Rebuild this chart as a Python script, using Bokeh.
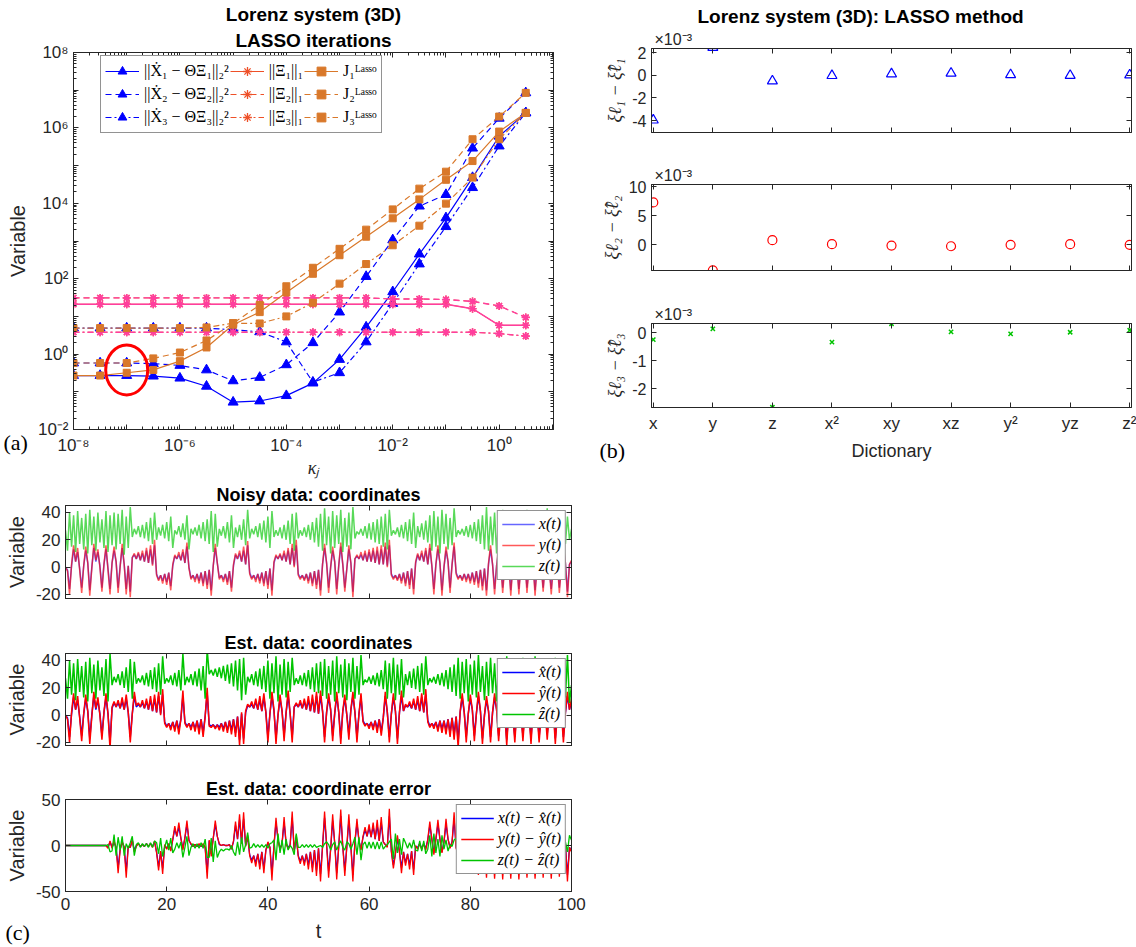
import numpy as np
from bokeh.plotting import figure
from bokeh.layouts import column, row
from bokeh.models import (Range1d, FixedTicker, LinearAxis, LogAxis, Legend, LegendItem,
                          Label, Title, Spacer, CustomJSTickFormatter)
from bokeh.embed import file_html
from bokeh.resources import INLINE

AX = "#262626"
SANS = "Liberation Sans"
SERIF = "Liberation Serif"

# ---------------- (a) LASSO iterations vs. kappa_j ----------------
kappa = [1e-8, 3.16e-8, 1e-7, 3.16e-7, 1e-6, 3.16e-6, 1e-5, 3.16e-5, 1e-4, 3.16e-4,
         1e-3, 3.16e-3, 1e-2, 3.16e-2, 1e-1, 3.16e-1, 1.0, 3.16]
resid_1 = [0.27, 0.27, 0.27, 0.26, 0.23, 0.14, 0.053, 0.057, 0.079, 0.17, 0.72, 5.2,
           45, 450, 4100, 48000, 6.0e5, 2.5e6]
resid_2 = [0.58, 0.58, 0.58, 0.56, 0.50, 0.38, 0.195, 0.24, 0.52, 2.0, 13, 114,
           1070, 8400, 17000, 2.9e5, 1.8e6, 8.5e6]
resid_3 = [4.9, 4.9, 4.9, 4.9, 4.9, 4.9, 4.4, 3.9, 2.1, 0.18, 0.32, 2.1,
           22, 245, 2400, 26000, 3.3e5, 2.5e6]
l1_1 = [21, 21, 21, 21, 21, 21, 21, 21, 21, 21, 21, 21, 21, 21, 21, 16, 5.8, 5.8]
l1_2 = [31, 31, 31, 31, 31, 31, 31, 31, 31, 31, 31, 31, 29, 29, 28, 25, 19, 9.4]
l1_3 = [3.8, 3.8, 3.8, 3.8, 3.8, 3.8, 3.8, 3.8, 3.8, 3.8, 3.8, 3.8, 3.8, 3.8, 3.8, 3.8, 3.5, 3.0]
j_lasso_1 = [0.27, 0.27, 0.32, 0.38, 0.65, 1.5, 6.0, 13, 43, 135, 420, 1300,
             4000, 12700, 42000, 132000, 8.0e5, 2.5e6]
j_lasso_2 = [0.58, 0.58, 0.58, 0.77, 1.1, 2.3, 6.6, 20, 63, 195, 620, 2000,
             6900, 24500, 69000, 5.0e5, 2.0e6, 8.5e6]
j_lasso_3 = [4.9, 4.9, 4.9, 4.9, 4.9, 5.1, 6.6, 6.5, 10, 23, 74, 245,
             770, 2550, 9800, 48000, 5.0e5, 2.5e6]
chosen_kappa = [1e-7]
chosen_value = [0.38]

resid_labels = ["||Ẋ₁ − ΘΞ₁||₂²", "||Ẋ₂ − ΘΞ₂||₂²", "||Ẋ₃ − ΘΞ₃||₂²"]
l1_labels = ["||Ξ₁||₁", "||Ξ₂||₁", "||Ξ₃||₁"]
j_labels = ["J₁ᴸᵃˢˢᵒ", "J₂ᴸᵃˢˢᵒ", "J₃ᴸᵃˢˢᵒ"]
kappa_tick_labels = ["10⁻⁸", "", "10⁻⁶", "", "10⁻⁴", "", "10⁻²", "", "10⁰", ""]   # 1e-8 .. 1e1
value_tick_labels = ["10⁻²", "", "10⁰", "", "10²", "", "10⁴", "", "10⁶", "", "10⁸"]  # 1e-2 .. 1e8

# ---------------- (b) coefficient errors per dictionary term (x 1e-3) ----------------
dictionary = ["x", "y", "z", "x²", "xy", "xz", "y²", "yz", "z²"]
xi1_err_e3 = [-3.95, 2.45, -0.5, -0.03, 0.12, 0.18, 0.05, -0.02, 0.03]
xi2_err_e3 = [7.3, -4.47, 0.76, 0.06, -0.18, -0.3, -0.06, 0.06, -0.06]
xi3_err_e3 = [-0.25, 0.13, -2.65, -0.34, 0.31, 0.02, -0.05, 0.01, 0.08]

# ---------------- (c) trajectories, sampled every 0.4 time units ----------------
x_noisy = [0, -2, -16, 1, 13, 4, 11, -1, -15, 1, 12, 3, -17, 0, 14, 4, 11, 1, -15, 2, 13, -1, -16, 3, 12,
           4, -15, 1, 14, 2, -16, 1, -18, 7, 9, 6, 10, 5, 10, 4, 12, 3, 13, 2, 16, -5, -9, -6, -10, -5,
           -11, -4, -14, 1, 8, 6, 9, 5, 11, 3, 15, 0, -8, -6, -9, -5, -10, -4, -12, -3, -13, -2, -17, 1, 14,
           3, -8, -6, -9, -5, -11, -3, -15, 1, 9, 6, 10, 4, 12, 2, 16, -4, -8, -6, -9, -5, -10, -4, -12, -3,
           -13, -1, -17, 3, 8, 6, 9, 5, 10, 4, 12, 2, 14, 1, 16, -5, -8, -6, -9, -5, -10, -4, -12, -3, -13,
           -2, -17, 2, 14, 3, -15, 0, 12, 4, -16, 1, 15, 2, -15, -1, 13, 3, -18, 6, 8, 6, 9, 5, 10, 4,
           11, 4, 12, 3, 12, 2, 13, 2, 15, 1, 16, -5, -8, -6, -9, -5, -10, -4, -12, -3, -13, -1, -16, 3, 9,
           5, 10, 4, 12, 2, 14, 1, -16, 2, 13, 3, -17, 0, 12, 4, -15, 2, 15, -4, -8, -6, -9, -5, -9, -5,
           -10, -4, -11, -3, -12, -2, -14, -1, -17, 2, 13, 2, -16, 1, 12, 4, -15, 0, 14, 3, -17, 1, 11, 3, -16,
           2, 13, 4, -15, 0, 12, 3, -17, 1, 14, 2, -15, 3, 13, -1, -16, 2, 11, 4, -15, 1, 14, 3, -18, 2, 4]
y_noisy = [0, -3, -20, 2, 16, 4, 14, -2, -19, 1, 15, 3, -21, -1, 17, 5, 13, 0, -18, 2, 16, -2, -20, 3, 15,
           4, -19, 0, 17, 2, -20, 1, -22, 7, 10, 6, 11, 5, 12, 4, 14, 3, 16, 1, 20, -6, -10, -6, -12, -5,
           -13, -4, -17, 2, 9, 6, 11, 5, 13, 3, 18, -1, -9, -6, -11, -5, -12, -4, -14, -3, -16, -2, -21, 1, 17,
           3, -9, -6, -11, -5, -13, -3, -18, 2, 10, 6, 12, 4, 15, 2, 19, -5, -9, -6, -11, -5, -12, -4, -14, -3,
           -16, -1, -21, 4, 9, 6, 10, 5, 12, 4, 14, 2, 17, 0, 20, -6, -9, -6, -10, -5, -12, -4, -14, -3, -16,
           -2, -21, 2, 17, 3, -19, 0, 15, 4, -20, 1, 18, 2, -18, -1, 16, 3, -22, 6, 9, 6, 11, 5, 12, 4,
           13, 4, 14, 3, 15, 2, 16, 2, 18, 0, 20, -6, -9, -6, -10, -5, -12, -4, -14, -3, -16, -1, -20, 4, 10,
           5, 12, 4, 14, 2, 17, 1, -20, 2, 16, 3, -21, 0, 15, 4, -19, 2, 18, -5, -9, -6, -10, -5, -11, -5,
           -12, -4, -13, -3, -15, -2, -17, -1, -21, 3, 16, 2, -20, 1, 15, 4, -19, 0, 17, 3, -21, 1, 14, 3, -20,
           2, 16, 4, -19, 0, 15, 3, -21, 1, 17, 2, -18, 3, 16, -1, -20, 2, 14, 4, -19, 1, 17, 3, -22, 2, 5]
z_noisy = [27, 12, 40, 15, 38, 11, 41, 17, 36, 13, 39, 10, 42, 16, 37, 12, 40, 18, 35, 14, 41, 11, 38, 16, 40,
           13, 39, 17, 42, 9, 37, 14, 44, 22, 28, 24, 30, 22, 31, 21, 33, 19, 36, 17, 40, 20, 29, 23, 31, 21,
           33, 19, 37, 14, 27, 24, 30, 22, 32, 20, 38, 13, 28, 24, 29, 23, 31, 21, 33, 19, 35, 17, 41, 11, 39,
           15, 28, 23, 30, 21, 33, 18, 38, 14, 29, 22, 31, 20, 35, 16, 42, 21, 28, 24, 30, 22, 32, 20, 34, 18,
           37, 14, 41, 22, 27, 23, 29, 21, 31, 20, 34, 17, 39, 12, 40, 21, 27, 23, 29, 22, 31, 20, 33, 18, 36,
           15, 39, 12, 43, 16, 37, 10, 41, 14, 38, 17, 42, 11, 36, 15, 40, 13, 44, 21, 26, 24, 28, 23, 30, 21,
           32, 20, 33, 18, 35, 17, 37, 15, 39, 13, 42, 23, 27, 24, 29, 22, 31, 21, 33, 19, 35, 17, 40, 14, 30,
           22, 32, 20, 34, 18, 38, 12, 41, 15, 37, 10, 42, 17, 39, 13, 36, 16, 43, 22, 27, 24, 28, 23, 30, 22,
           31, 21, 33, 19, 35, 17, 38, 13, 44, 12, 37, 16, 40, 10, 39, 15, 42, 13, 36, 17, 41, 11, 38, 14, 40,
           16, 37, 12, 42, 15, 39, 10, 41, 17, 36, 13, 40, 15, 43, 11, 38, 16, 35, 12, 41, 14, 39, 17, 37, 20, 28]

x_est = [0, -2, -16, 1, 13, 4, 11, -1, -15, 1, 12, 3, -17, 0, 14, 4, 11, 1, -15, 2, 13, 1, -20, 5, 9,
         6, 9, 5, 10, 4, 12, 2, -16, 1, 14, 6, 8, 6, 9, 5, 10, 4, 11, 3, 12, 2, 14, 1, 15, -5,
         -8, -6, -9, -5, -10, -4, -11, -3, 14, -5, -8, -6, -9, -5, -10, -4, -11, -3, -13, -1, 16, -7, -8, -7, -9,
         -7, -9, -6, -10, -5, -11, -4, -11, -3, -13, -1, -18, 1, -17, 2, 7, 6, 8, 5, 10, 4, 11, 3, 13, 2,
         -16, 1, 14, 3, -17, 0, 12, 3, -15, 2, 14, 1, -16, 6, 8, 6, 9, 5, 10, 4, 11, 3, 12, 2, 14,
         1, 14, 3, -16, 2, 13, 4, -15, 1, 14, 2, -17, 3, 12, 0, -14, 4, 14, 2, -16, 1, 13, -4, -7, -6,
         -8, -5, -9, -4, -10, -3, -12, -2, 14, 2, -16, 1, 13, 3, -17, 2, 14, 3, 7, 6, 8, 5, 10, 4, 11,
         3, 13, 2, 15, -4, -8, -6, -8, -5, -10, -4, -10, -4, -11, -3, -13, -2, -14, -1, -19, 2, 13, 2, -16, 1,
         12, 4, -15, 1, 14, 3, -17, 0, 11, 3, -16, 2, 13, 4, -15, 1, 14, 2, -18, 3, 12, 0, -16, 4, 14,
         2, -15, 3, 13, 1, -17, 4, 12, 2, -16, 0, 14, 3, -14, 2, 13, 4, -17, 1, 12, 3, -16, 2, 14, 4, 10]
y_est = [0, -3, -20, 2, 16, 4, 14, -2, -19, 1, 15, 3, -21, -1, 17, 5, 13, 0, -18, 2, 16, 1, -25, 6, 10,
         6, 11, 5, 13, 4, 15, 2, -20, 1, 17, 7, 9, 6, 11, 5, 12, 4, 14, 3, 15, 2, 17, 0, 19, -6,
         -9, -6, -11, -5, -12, -4, -14, -3, 18, -6, -9, -6, -11, -5, -12, -4, -14, -3, -16, -1, 20, -8, -9, -7, -10,
         -7, -11, -6, -12, -5, -13, -4, -14, -3, -16, -1, -22, 2, -21, 3, 8, 6, 10, 5, 12, 4, 14, 3, 16, 2,
         -20, 1, 17, 4, -21, 0, 15, 3, -19, 2, 18, 1, -20, 6, 9, 6, 11, 5, 12, 4, 14, 3, 15, 2, 17,
         1, 18, 3, -20, 2, 16, 4, -19, 1, 17, 2, -21, 3, 15, 0, -18, 4, 17, 2, -20, 1, 16, -5, -8, -6,
         -10, -5, -11, -4, -13, -3, -15, -2, 17, 2, -20, 1, 16, 3, -21, 2, 18, 3, 8, 6, 10, 5, 12, 4, 14,
         3, 16, 2, 19, -5, -9, -6, -10, -5, -12, -4, -13, -4, -14, -3, -16, -2, -18, -1, -24, 3, 16, 2, -20, 1,
         15, 4, -19, 1, 17, 3, -21, 0, 14, 3, -20, 2, 16, 4, -19, 1, 18, 2, -22, 3, 15, 0, -20, 4, 17,
         2, -19, 3, 16, 1, -21, 4, 15, 2, -20, 0, 17, 3, -18, 2, 16, 4, -21, 1, 15, 3, -20, 2, 17, 4, 12]
z_est = [27, 12, 40, 15, 38, 11, 41, 17, 36, 13, 39, 10, 42, 16, 37, 12, 40, 18, 35, 14, 41, 10, 45, 22, 28,
         24, 30, 22, 32, 20, 35, 17, 41, 12, 39, 23, 27, 24, 29, 22, 31, 21, 33, 19, 35, 17, 38, 15, 43, 23,
         27, 24, 29, 22, 31, 21, 33, 18, 45, 22, 28, 24, 30, 22, 32, 21, 34, 18, 36, 12, 48, 30, 33, 29, 34,
         28, 35, 27, 36, 25, 37, 23, 38, 21, 40, 18, 41, 11, 42, 15, 28, 24, 30, 22, 32, 21, 34, 19, 36, 17,
         40, 12, 38, 16, 43, 10, 37, 15, 41, 13, 39, 17, 42, 22, 27, 23, 29, 22, 31, 21, 33, 19, 35, 17, 38,
         16, 39, 14, 41, 12, 36, 15, 40, 10, 43, 16, 37, 13, 41, 11, 38, 17, 42, 12, 36, 15, 44, 22, 26, 24,
         28, 23, 29, 22, 31, 21, 33, 19, 40, 12, 38, 16, 42, 11, 37, 15, 41, 13, 30, 22, 32, 20, 34, 19, 36,
         17, 38, 15, 43, 22, 27, 24, 28, 23, 30, 22, 31, 21, 33, 19, 35, 17, 37, 14, 42, 12, 39, 16, 41, 10,
         37, 15, 40, 13, 44, 17, 36, 11, 39, 14, 42, 16, 38, 10, 41, 15, 37, 12, 43, 17, 36, 13, 40, 11, 38,
         16, 42, 12, 37, 15, 40, 11, 43, 16, 38, 13, 36, 17, 41, 12, 39, 14, 42, 10, 37, 15, 40, 13, 44, 9, 22]

BLUE, RED, GREEN = "#0000FF", "#FF0000", "#00C400"
J_COLOR = "#D9782A"
XI_COLOR = "#FF3E9E"
XI_LEGEND = "#EE5028"


def style_axis(ax, size="16px"):
    ax.axis_line_color = AX
    ax.major_tick_line_color = AX
    ax.minor_tick_line_color = AX
    ax.major_tick_in = 5
    ax.major_tick_out = 0
    ax.minor_tick_in = 3
    ax.minor_tick_out = 0
    ax.major_label_text_color = AX
    ax.major_label_text_font = SANS
    ax.major_label_text_font_size = size
    ax.axis_label_text_color = AX
    ax.axis_label_text_font = SANS
    ax.axis_label_text_font_style = "normal"


def hide_labels(ax):
    ax.major_label_text_font_size = "1px"
    ax.major_label_text_alpha = 0
    ax.major_label_standoff = 0


def add_box_ticks(p, xticker, yticker, log=False):
    cls = LogAxis if log else LinearAxis
    top = cls(ticker=xticker)
    right = cls(ticker=yticker)
    for ax in (top, right):
        style_axis(ax)
        hide_labels(ax)
    p.add_layout(top, "above")
    p.add_layout(right, "right")


def base_style(p):
    p.xgrid.visible = False
    p.ygrid.visible = False
    p.outline_line_color = AX
    p.outline_line_width = 1
    p.background_fill_color = "white"
    p.border_fill_color = "white"


def style_title(t, size="19px", bold=True):
    t.text_font = SANS
    t.text_font_size = size
    t.text_font_style = "bold" if bold else "normal"
    t.text_color = "black"
    t.standoff = 3


def tag_label(text, x, y, font=SERIF, size="22px", align="left", color="black"):
    return Label(x=x, y=y, x_units="screen", y_units="screen", text=text,
                 text_font=font, text_font_size=size, text_baseline="middle",
                 text_align=align, text_color=color)


def text_strip(width, height):
    # axis-free strip under a column of plots, used for loose captions
    f = figure(width=width, height=height, x_range=Range1d(0, 1), y_range=Range1d(0, 1),
               output_backend="svg", toolbar_location=None, min_border=0, title=None,
               x_axis_location=None, y_axis_location=None)
    f.xgrid.visible = False
    f.ygrid.visible = False
    f.outline_line_color = None
    f.background_fill_color = "white"
    f.border_fill_color = "white"
    return f


# ================= panel (a) =================
pa = figure(width=585, height=480, x_axis_type="log", y_axis_type="log",
            x_range=Range1d(1e-8, 10.5), y_range=Range1d(1e-2, 1e8),
            output_backend="svg", toolbar_location=None,
            min_border_left=73, min_border_right=32, min_border_top=52, min_border_bottom=45)
base_style(pa)

x_major = [10.0 ** e for e in range(-8, 2)]
x_minor = [m * 10.0 ** e for e in range(-8, 1) for m in range(2, 10)] + [2.0, 3.0, 4.0, 5.0, 6.0, 7.0, 8.0, 9.0]
y_major = [10.0 ** e for e in range(-2, 9)]
y_minor = [m * 10.0 ** e for e in range(-2, 8) for m in range(2, 10)]
xt = FixedTicker(ticks=x_major, minor_ticks=x_minor)
yt = FixedTicker(ticks=y_major, minor_ticks=y_minor)

pa.xaxis[0].ticker = xt
pa.yaxis[0].ticker = yt
pa.xaxis[0].formatter = CustomJSTickFormatter(
    args=dict(labels=kappa_tick_labels, first=-8),
    code="const i = Math.round(Math.log10(tick)) - first; const s = labels[i]; return s === undefined ? '' : s;")
pa.yaxis[0].formatter = CustomJSTickFormatter(
    args=dict(labels=value_tick_labels, first=-2),
    code="const i = Math.round(Math.log10(tick)) - first; const s = labels[i]; return s === undefined ? '' : s;")
style_axis(pa.xaxis[0], "17px")
style_axis(pa.yaxis[0], "17px")
pa.xaxis[0].major_label_standoff = 6
pa.yaxis[0].major_label_standoff = 5
pa.xaxis[0].axis_label = "κⱼ"
pa.xaxis[0].axis_label_text_font = SERIF
pa.xaxis[0].axis_label_text_font_style = "italic"
pa.xaxis[0].axis_label_text_font_size = "18px"
pa.xaxis[0].axis_label_standoff = 0
pa.yaxis[0].axis_label = "Variable"
pa.yaxis[0].axis_label_text_font_size = "20px"
pa.yaxis[0].axis_label_standoff = 6
add_box_ticks(pa, xt, yt, log=True)

# extra titles stack next to the frame, so the outer line is the figure title
pa.title.text = "Lorenz system (3D)"
pa.title.align = "center"
style_title(pa.title)
t_sub = Title(text="LASSO iterations", align="center")
style_title(t_sub)
pa.add_layout(t_sub, "above")

dashes = ["solid", "6 4", "6 3 2 3"]
resid_r, xi_leg_r, j_r = [], [], []
for vals, dash in zip([resid_1, resid_2, resid_3], dashes):
    l = pa.line(kappa, vals, line_color=BLUE, line_width=1.2, line_dash=dash)
    s = pa.scatter(kappa, vals, marker="triangle", size=10, fill_color=BLUE, line_color=BLUE)
    resid_r.append([l, s])
for vals, dash in zip([l1_1, l1_2, l1_3], dashes):
    # legend-coloured copy underneath, covered by the pink trace drawn on top
    l = pa.line(kappa, vals, line_color=XI_LEGEND, line_width=1.0, line_dash=dash)
    s = pa.scatter(kappa, vals, marker="asterisk", size=8, line_color=XI_LEGEND, line_width=1.3)
    xi_leg_r.append([l, s])
    pa.line(kappa, vals, line_color=XI_COLOR, line_width=1.4, line_dash=dash)
    pa.scatter(kappa, vals, marker="asterisk", size=8, line_color=XI_COLOR, line_width=1.6)
for vals, dash in zip([j_lasso_1, j_lasso_2, j_lasso_3], dashes):
    l = pa.line(kappa, vals, line_color=J_COLOR, line_width=1.2, line_dash=dash)
    s = pa.scatter(kappa, vals, marker="square", size=7, fill_color=J_COLOR, line_color=J_COLOR)
    j_r.append([l, s])

pa.ellipse(x=chosen_kappa, y=chosen_value, width=42, height=50,
           width_units="screen", height_units="screen",
           fill_alpha=0, line_color="#FF0000", line_width=3)

items = ([LegendItem(label=lb, renderers=r) for lb, r in zip(resid_labels, resid_r)] +
         [LegendItem(label=lb, renderers=r) for lb, r in zip(l1_labels, xi_leg_r)] +
         [LegendItem(label=lb, renderers=r) for lb, r in zip(j_labels, j_r)])
leg_a = Legend(items=items, ncols=3, location=(27, 296),
               label_text_font=SERIF, label_text_font_size="16px", label_text_color="black",
               glyph_width=34, glyph_height=22, label_height=22, spacing=1, padding=4,
               label_standoff=5, border_line_color=AX, border_line_width=1,
               background_fill_color="white", background_fill_alpha=1)
pa.add_layout(leg_a)
# the right side panel is not clipped, so the tag can reach the lower-left corner
pa.add_layout(tag_label("(a)", -550, -13), "right")

# ================= panel (b) =================
positions = list(range(1, len(dictionary) + 1))


def coef_fig(height, btop, bbottom, yr, yticks, ylabel, show_labels, main_title=None):
    f = figure(width=551, height=height, x_range=Range1d(0.97, 9.03), y_range=Range1d(*yr),
               output_backend="svg", toolbar_location=None,
               min_border_left=66, min_border_right=5, min_border_top=btop, min_border_bottom=bbottom)
    base_style(f)
    xt_b = FixedTicker(ticks=positions)
    yt_b = FixedTicker(ticks=yticks)
    f.xaxis[0].ticker = xt_b
    f.yaxis[0].ticker = yt_b
    style_axis(f.xaxis[0], "17px")
    style_axis(f.yaxis[0], "16px")
    f.yaxis[0].major_label_overrides = {v: str(v) for v in yticks}
    if show_labels:
        f.xaxis[0].major_label_overrides = {i: lb for i, lb in zip(positions, dictionary)}
        f.xaxis[0].major_label_standoff = 6
    else:
        hide_labels(f.xaxis[0])
    f.yaxis[0].axis_label = ylabel
    f.yaxis[0].axis_label_text_font = SERIF
    f.yaxis[0].axis_label_text_font_style = "italic"
    f.yaxis[0].axis_label_text_font_size = "18px"
    f.yaxis[0].axis_label_standoff = 4
    add_box_ticks(f, xt_b, yt_b)
    exp_title = f.title
    if main_title is not None:
        f.title.text = main_title
        f.title.align = "left"
        f.title.offset = 46
        style_title(f.title)
        exp_title = Title()
        f.add_layout(exp_title, "above")
    exp_title.text = "×10⁻³"
    exp_title.align = "left"
    exp_title.offset = 3
    style_title(exp_title, size="16px", bold=False)
    exp_title.text_color = AX
    exp_title.standoff = 1
    return f


b1 = coef_fig(160, 48, 28, (-5.04, 2.36), [-4, -2, 0, 2], "ξℓ₁ − ξ̂ℓ₁", False,
              main_title="Lorenz system (3D): LASSO method")
b1.scatter(positions, xi1_err_e3, marker="triangle", size=10, fill_alpha=0, line_color=BLUE, line_width=1.2)

b2 = coef_fig(137, 24, 27, (-4.5, 10.4), [0, 5, 10], "ξℓ₂ − ξ̂ℓ₂", False)
b2.scatter(positions, xi2_err_e3, marker="circle", size=9, fill_alpha=0, line_color=RED, line_width=1.2)

b3 = coef_fig(140, 26, 30, (-2.66, 0.32), [-2, -1, 0], "ξℓ₃ − ξ̂ℓ₃", True)
b3.scatter(positions, xi3_err_e3, marker="x", size=6, line_color=GREEN, line_width=1.5)

# the strip's frame lines up with the plots above it; the tag goes in its left panel
b_foot = text_strip(551, 43)
b_foot.add_layout(tag_label("Dictionary", 240, 30, font=SANS, size="18px", align="center", color=AX))
b_foot.add_layout(tag_label("(b)", -26, 30), "left")

# ================= panel (c) =================
t_noisy = np.linspace(0, 100, len(z_noisy))
t_est = np.linspace(0, 100, len(z_est))
n_err = min(len(x_noisy), len(x_est))
t_err = np.linspace(0, 100, n_err)
x_err = np.array(x_noisy[:n_err]) - np.array(x_est[:n_err])
y_err = np.array(y_noisy[:n_err]) - np.array(y_est[:n_err])
z_err = np.array(z_noisy[:n_err]) - np.array(z_est[:n_err])

time_ticks = [0, 20, 40, 60, 80, 100]


def ts_fig(height, btop, bbottom, yr, yticks, title, show_x):
    f = figure(width=600, height=height, x_range=Range1d(0, 100), y_range=Range1d(*yr),
               output_backend="svg", toolbar_location=None,
               min_border_left=65, min_border_right=29, min_border_top=btop, min_border_bottom=bbottom)
    base_style(f)
    xt_c = FixedTicker(ticks=time_ticks)
    yt_c = FixedTicker(ticks=yticks)
    f.xaxis[0].ticker = xt_c
    f.yaxis[0].ticker = yt_c
    style_axis(f.xaxis[0], "17px")
    style_axis(f.yaxis[0], "17px")
    f.yaxis[0].major_label_overrides = {v: str(v) for v in yticks}
    f.yaxis[0].axis_label = "Variable"
    f.yaxis[0].axis_label_text_font_size = "20px"
    f.yaxis[0].axis_label_standoff = 5
    if show_x:
        f.xaxis[0].major_label_standoff = 6
    else:
        hide_labels(f.xaxis[0])
    add_box_ticks(f, xt_c, yt_c)
    f.title.text = title
    f.title.align = "center"
    style_title(f.title, size="18px")
    f.title.standoff = 2
    return f


def ts_legend(f, labels, renderers):
    leg = Legend(items=[LegendItem(label=lb, renderers=[r]) for lb, r in zip(labels, renderers)],
                 location="top_right", margin=5,
                 label_text_font=SERIF, label_text_font_style="italic", label_text_font_size="16px",
                 label_text_color="black", glyph_width=33, glyph_height=18, label_height=18,
                 spacing=3, padding=4, label_standoff=4, border_line_color=AX, border_line_width=1,
                 background_fill_color="white", background_fill_alpha=1)
    f.add_layout(leg)


c1 = ts_fig(140, 25, 22, (-23, 45.1), [-20, 0, 20, 40], "Noisy data: coordinates", False)
r1 = [c1.line(t_noisy, x_noisy, line_color=BLUE, line_width=1.5, line_alpha=0.6),
      c1.line(t_noisy, y_noisy, line_color=RED, line_width=1.5, line_alpha=0.65),
      c1.line(t_noisy, z_noisy, line_color=GREEN, line_width=1.5, line_alpha=0.65)]
ts_legend(c1, ["x(t)", "y(t)", "z(t)"], r1)

c2 = ts_fig(148, 33, 23, (-22.2, 45.1), [-20, 0, 20, 40], "Est. data: coordinates", False)
r2 = [c2.line(t_est, x_est, line_color=BLUE, line_width=1.5),
      c2.line(t_est, y_est, line_color=RED, line_width=1.5),
      c2.line(t_est, z_est, line_color=GREEN, line_width=1.5)]
ts_legend(c2, ["x̂(t)", "ŷ(t)", "ẑ(t)"], r2)

c3 = ts_fig(150, 31, 27, (-50, 50), [-50, 0, 50], "Est. data: coordinate error", True)
r3 = [c3.line(t_err, x_err, line_color=BLUE, line_width=1.3),
      c3.line(t_err, y_err, line_color=RED, line_width=1.3),
      c3.line(t_err, z_err, line_color=GREEN, line_width=1.3)]
ts_legend(c3, ["x(t) − x̂(t)", "y(t) − ŷ(t)", "z(t) − ẑ(t)"], r3)

c_foot = text_strip(600, 29)
c_foot.add_layout(tag_label("t", 253, 17, font=SANS, size="20px", align="center", color=AX))
c_foot.add_layout(tag_label("(c)", -36, 15), "left")

page = column(row(pa, column(b1, b2, b3, b_foot)),
              row(column(c1, c2, c3, c_foot), Spacer(width=536, height=467)))

open("out.html", "w").write(file_html(page, INLINE))
